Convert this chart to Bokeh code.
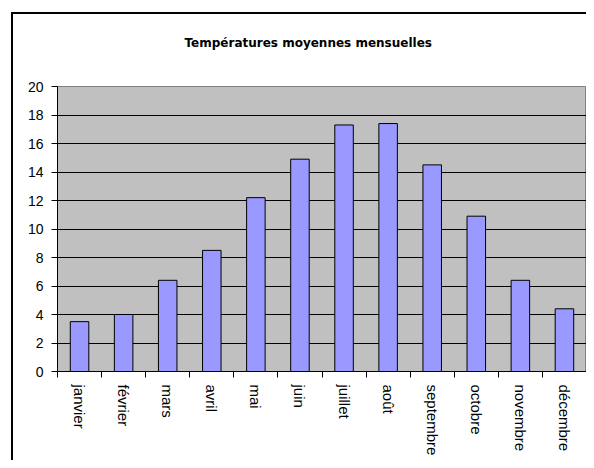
import math
from bokeh.plotting import figure
from bokeh.models import Range1d, FixedTicker
from bokeh.embed import file_html
from bokeh.resources import INLINE

months = ["janvier", "février", "mars", "avril", "mai", "juin", "juillet",
          "août", "septembre", "octobre", "novembre", "décembre"]
temps = [3.5, 4.0, 6.4, 8.5, 12.2, 14.9, 17.3, 17.4, 14.5, 10.9, 6.4, 4.4]
y_ticks = [0, 2, 4, 6, 8, 10, 12, 14, 16, 18, 20]
title_text = "Températures moyennes mensuelles"

n = len(months)
centers = [i + 0.5 for i in range(n)]
bounds = [i for i in range(n + 1)]

chart_frame_css = ("linear-gradient(#000, #000) 11px 12px / 2px 100% no-repeat, "
                   "linear-gradient(#000, #000) 11px 12px / 100% 2px no-repeat, #fff")

p = figure(width=586, height=460, output_backend="svg", toolbar_location=None,
           x_range=Range1d(0, n), y_range=Range1d(0, 20),
           min_border_left=57, min_border_top=86, min_border_right=0,
           min_border_bottom=89,
           styles={"background": chart_frame_css})
p.background_fill_color = "#C0C0C0"
p.border_fill_alpha = 0
p.outline_line_color = "#808080"
p.outline_line_width = 1

p.title.text = title_text
p.title.align = "left"
p.title.offset = 127
p.title.vertical_align = "top"
p.title.standoff = 70
p.title.text_font = "DejaVu Sans"
p.title.text_font_style = "bold"
p.title.text_font_size = "12px"
p.title.text_color = "black"

p.vbar(x=centers, top=temps, width=0.42, bottom=0,
       fill_color="#9999FF", line_color="black", line_width=1)

p.xgrid.visible = False
p.ygrid.ticker = FixedTicker(ticks=y_ticks)
p.ygrid.grid_line_color = "black"
p.ygrid.grid_line_width = 1

xa = p.xaxis[0]
xa.ticker = FixedTicker(ticks=centers, minor_ticks=bounds)
xa.major_label_overrides = {c: m for c, m in zip(centers, months)}
xa.major_label_orientation = -math.pi / 2
xa.major_tick_out = 0
xa.major_tick_in = 0
xa.minor_tick_out = 6
xa.minor_tick_in = 0
xa.minor_tick_line_color = "black"
xa.axis_line_color = "black"
xa.major_label_standoff = 7
xa.major_label_text_font = "Liberation Sans"
xa.major_label_text_font_size = "15px"
xa.major_label_text_color = "black"

ya = p.yaxis[0]
ya.ticker = FixedTicker(ticks=y_ticks)
ya.major_tick_out = 6
ya.major_tick_in = 0
ya.minor_tick_out = 0
ya.minor_tick_in = 0
ya.axis_line_color = "black"
ya.major_label_standoff = 8
ya.major_label_text_font = "Liberation Sans"
ya.major_label_text_font_size = "14px"
ya.major_label_text_color = "black"

open("out.html", "w").write(file_html(p, INLINE))
